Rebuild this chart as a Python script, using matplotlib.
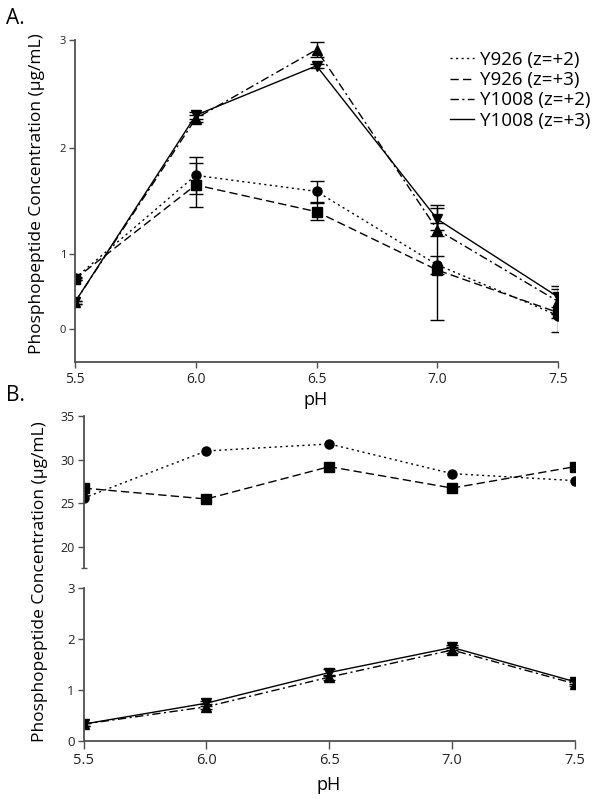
import numpy as np
import matplotlib
matplotlib.use('Agg')
import matplotlib.pyplot as plt

plt.rcParams['font.family'] = ['Open Sans', 'DejaVu Sans']

# ---------------- data ----------------
ph = [5.5, 6.0, 6.5, 7.0, 7.5]
labels = ['Y926 (z=+2)', 'Y926 (z=+3)', 'Y1008 (z=+2)', 'Y1008 (z=+3)']

# panel A
a_y926_z2 = [0.68, 1.74, 1.59, 0.86, 0.18]
a_y926_z2_err = [0.02, 0.17, 0.10, 0.12, 0.04]
a_y926_z3 = [0.67, 1.65, 1.40, 0.79, 0.22]
a_y926_z3_err = [0.02, 0.21, 0.08, 0.67, 0.26]
a_y1008_z2 = [0.36, 2.27, 2.91, 1.23, 0.37]
a_y1008_z2_err = [0.02, 0.03, 0.07, 0.06, 0.17]
a_y1008_z3 = [0.36, 2.30, 2.76, 1.33, 0.43]
a_y1008_z3_err = [0.02, 0.03, 0.02, 0.10, 0.14]

# panel B
b_y926_z2 = [25.6, 31.0, 31.8, 28.4, 27.6]
b_y926_z3 = [26.75, 25.5, 29.2, 26.75, 29.2]
b_y1008_z2 = [0.33, 0.67, 1.25, 1.78, 1.12]
b_y1008_z2_err = [0.03, 0.05, 0.05, 0.05, 0.05]
b_y1008_z3 = [0.33, 0.74, 1.34, 1.83, 1.16]
b_y1008_z3_err = [0.03, 0.05, 0.06, 0.05, 0.05]

a_yticks = [0, 1, 2, 3]
b_top_yticks = [20, 25, 30, 35]
b_bot_yticks = [0, 1, 2, 3]
xticks = [5.5, 6.0, 6.5, 7.0, 7.5]

# ---------------- styles ----------------
spine_col = '#505050'
dot = (0, (1.5, 2.5))
dash = (0, (6, 3))
dashdot = (0, (6, 2.5, 1.5, 2.5))
styles = [dict(ls=dot, marker='o'), dict(ls=dash, marker='s'),
          dict(ls=dashdot, marker='^'), dict(ls='-', marker='v')]
ms = 6.5


def style_axis(ax, fsx, fsy):
    ax.spines['top'].set_visible(False)
    ax.spines['right'].set_visible(False)
    for s in ['left', 'bottom']:
        ax.spines[s].set_color(spine_col)
        ax.spines[s].set_linewidth(1.3)
    ax.tick_params(direction='out', length=4.5, width=1, color=spine_col,
                   labelcolor='#222222', pad=2)
    ax.tick_params(axis='x', labelsize=fsx, pad=3)
    ax.tick_params(axis='y', labelsize=fsy)


fig = plt.figure(figsize=(6.03, 7.99), dpi=100)

########################## PANEL A ##########################
ax_a = fig.add_axes([75/603, 1-361.7/799, 483/603, (361.7-40)/799])

# the original's y axis is not linear below 1
yv = np.array([-1.0, 0.0, 1.0, 2.0, 3.0, 4.0])
yp = np.array([-74.6, 0.0, 74.6, 181.6, 289.3, 397.0])
ax_a.set_yscale('function', functions=(lambda v: np.interp(v, yv, yp),
                                       lambda p: np.interp(p, yp, yv)))

a_series = [(a_y926_z2, a_y926_z2_err), (a_y926_z3, a_y926_z3_err),
            (a_y1008_z2, a_y1008_z2_err), (a_y1008_z3, a_y1008_z3_err)]
for (vals, err), st in zip(a_series, styles):
    ax_a.errorbar(ph, vals, yerr=err, color='black', lw=1.0, ls=st['ls'],
                  marker=st['marker'], ms=ms, capsize=5, capthick=1,
                  elinewidth=1)

ax_a.set_xlim(5.5, 7.5)
ax_a.set_ylim(-0.44, 3.0)
ax_a.set_yticks(a_yticks)
ax_a.set_yticklabels([str(t) for t in a_yticks])
ax_a.set_xticks(xticks)
ax_a.set_xticklabels(['%.1f' % t for t in xticks])
ax_a.minorticks_off()
style_axis(ax_a, 10, 8)

# legend (line samples only)
handles = []
for st, lab in zip(styles, labels):
    h, = ax_a.plot([], [], color='black', lw=1.0, ls=st['ls'], label=lab)
    handles.append(h)
fig.legend(handles=handles, loc='upper left',
           bbox_to_anchor=(450/603, 1-51/799), frameon=False, fontsize=13.5,
           handlelength=1.3, handletextpad=0.3, labelspacing=0.12,
           borderpad=0, borderaxespad=0)

########################## PANEL B ##########################
ax_bt = fig.add_axes([83.5/603, 1-568/799, 491.5/603, (568-416)/799])
ax_bb = fig.add_axes([83.5/603, 1-741/799, 491.5/603, (741-587.7)/799])

ax_bt.plot(ph, b_y926_z2, color='black', lw=1.0, ls=dot, marker='o', ms=ms)
ax_bt.plot(ph, b_y926_z3, color='black', lw=1.0, ls=dash, marker='s', ms=ms)
ax_bt.set_xlim(5.5, 7.5)
ax_bt.set_ylim(17.6, 35)
ax_bt.set_yticks(b_top_yticks)
ax_bt.set_yticks([17.6], minor=True)
style_axis(ax_bt, 10, 9)
ax_bt.tick_params(axis='y', which='minor', direction='inout', length=5,
                  width=1, color=spine_col)
ax_bt.spines['bottom'].set_visible(False)
ax_bt.set_xticks([])

ax_bb.errorbar(ph, b_y1008_z2, yerr=b_y1008_z2_err, color='black', lw=1.0,
               ls=dashdot, marker='^', ms=ms, capsize=4, capthick=1)
ax_bb.errorbar(ph, b_y1008_z3, yerr=b_y1008_z3_err, color='black', lw=1.0,
               ls='-', marker='v', ms=ms, capsize=4, capthick=1)
ax_bb.set_xlim(5.5, 7.5)
ax_bb.set_ylim(0, 3)
ax_bb.set_yticks(b_bot_yticks)
ax_bb.set_xticks(xticks)
ax_bb.set_xticklabels(['%.1f' % t for t in xticks])
style_axis(ax_bb, 10.5, 9.5)
ax_bb.tick_params(axis='x', length=6)

########################## LABELS ##########################
fig.text(6/603, 1-18/799, 'A.', fontsize=15, va='center', ha='left')
fig.text(6/603, 1-396/799, 'B.', fontsize=15, va='center', ha='left')
fig.text(37/603, 1-194/799, 'Phosphopeptide Concentration (\u00b5g/mL)',
         rotation=90, fontsize=12.5, va='center', ha='center')
fig.text(40/603, 1-582/799, 'Phosphopeptide Concentration (\u00b5g/mL)',
         rotation=90, fontsize=12.5, va='center', ha='center')
fig.text(316/603, 1-400/799, 'pH', fontsize=13, va='center', ha='center')
fig.text(329/603, 1-785/799, 'pH', fontsize=13, va='center', ha='center')

plt.savefig('out.png', dpi=100)
